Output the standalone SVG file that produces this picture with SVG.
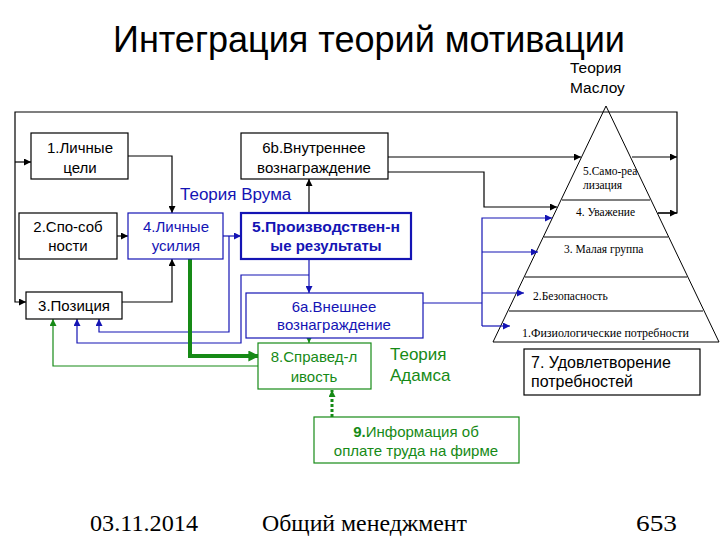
<svg xmlns="http://www.w3.org/2000/svg" width="720" height="540" viewBox="0 0 720 540">
<defs>
<style>
.t{font-family:"Liberation Sans",Arial,sans-serif;font-size:15px;text-anchor:middle}
.s{font-family:"Liberation Serif","Times New Roman",serif}
.bk{fill:#fff;stroke:#000;stroke-width:1.2}
.bl{fill:#fff;stroke:#1414b4;stroke-width:1.2}
.gr{fill:#fff;stroke:#168a16;stroke-width:1.2}
.cb{fill:none;stroke:#000;stroke-width:1.2}
.cu{fill:none;stroke:#1414b4;stroke-width:1.2}
.cg{fill:none;stroke:#168a16;stroke-width:1.2}
.tb{fill:#000}
.tu{fill:#1414b4}
.tg{fill:#168a16}
.py{font-family:"Liberation Serif","Times New Roman",serif;font-size:11.5px;fill:#000}
</style>
<marker id="ab" viewBox="0 0 8 8" refX="8" refY="4" markerWidth="8" markerHeight="7" orient="auto" markerUnits="userSpaceOnUse"><path d="M0,0 L8,4 L0,8 z" fill="#000"/></marker>
<marker id="au" viewBox="0 0 8 8" refX="8" refY="4" markerWidth="8" markerHeight="7" orient="auto" markerUnits="userSpaceOnUse"><path d="M0,0 L8,4 L0,8 z" fill="#1414b4"/></marker>
<marker id="ag" viewBox="0 0 8 8" refX="8" refY="4" markerWidth="8" markerHeight="7" orient="auto" markerUnits="userSpaceOnUse"><path d="M0,0 L8,4 L0,8 z" fill="#168a16"/></marker>
<marker id="agb" viewBox="0 0 8 8" refX="7" refY="4" markerWidth="11" markerHeight="11" orient="auto" markerUnits="userSpaceOnUse"><path d="M0,0 L8,4 L0,8 z" fill="#168a16"/></marker>
</defs>
<rect width="720" height="540" fill="#fff"/>

<text x="369" y="52" font-family="Liberation Sans, Arial, sans-serif" font-size="37" text-anchor="middle" textLength="512" lengthAdjust="spacingAndGlyphs" fill="#000">Интеграция теорий мотивации</text>

<g id="maslow-title"><text x="570" y="73" font-family="Liberation Sans, Arial, sans-serif" font-size="15.5" fill="#000">Теория</text><text x="570" y="93" font-family="Liberation Sans, Arial, sans-serif" font-size="15.5" fill="#000">Маслоу</text></g>

<g id="pyramid">
<path d="M606,106 L493,342 L719,342 Z" fill="#fff" stroke="#000" stroke-width="1"/>
<line x1="562" y1="200" x2="650" y2="200" stroke="#000" stroke-width="1"/>
<line x1="544" y1="237" x2="668" y2="237" stroke="#000" stroke-width="1"/>
<line x1="525" y1="277" x2="687" y2="277" stroke="#000" stroke-width="1"/>
<line x1="509" y1="311" x2="703" y2="311" stroke="#000" stroke-width="1"/>
<text class="py" x="583" y="175">5.Само-реа</text>
<text class="py" x="583" y="189">лизация</text>
<text class="py" x="576" y="216">4. Уважение</text>
<text class="py" x="564" y="253">3. Малая группа</text>
<text class="py" x="533" y="300">2.Безопасность</text>
<text class="py" x="522" y="337" textLength="167" lengthAdjust="spacingAndGlyphs">1.Физиологические потребности</text>
</g>

<g id="connectors">
<path class="cb" d="M658,213 H677 V112 H15 V302 H26" marker-end="url(#ab)"/>
<path class="cb" d="M15,162 H31" marker-end="url(#ab)"/>
<path class="cb" d="M632,157 H677" marker-end="url(#ab)"/>
<path class="cb" d="M658,213 H677" marker-end="url(#ab)"/>
<path class="cb" d="M388,157 H581" marker-end="url(#ab)"/>
<path class="cb" d="M388,172 H484 V207 H557" marker-end="url(#ab)"/>
<path class="cb" d="M128,156 H172 V213" marker-end="url(#ab)"/>
<path class="cb" d="M117,236 H128" marker-end="url(#ab)"/>
<path class="cb" d="M122,302 H172 V259" marker-end="url(#ab)"/>
<path class="cb" d="M309,213 V179" marker-end="url(#ab)"/>

<path class="cu" d="M223,236 H241" marker-end="url(#au)"/>
<path class="cu" d="M229,236 V332 H99 V319" marker-end="url(#au)"/>
<path class="cu" d="M309,259 V293" marker-end="url(#au)"/>
<path class="cu" d="M309,275 H241 V343 H77 V319" marker-end="url(#au)"/>
<path class="cu" d="M423,303 H482"/>
<path class="cu" d="M482,326 V218 H552" marker-end="url(#au)"/>
<path class="cu" d="M482,252 H538" marker-end="url(#au)"/>
<path class="cu" d="M482,293 H524" marker-end="url(#au)"/>
<path class="cu" d="M482,326 H510" marker-end="url(#au)"/>

<path d="M190,259 V356 H258" fill="none" stroke="#168a16" stroke-width="4" marker-end="url(#agb)"/>
<path class="cg" d="M309,318 V343" marker-end="url(#ag)"/>
<path class="cg" d="M258,366 H53 V319" marker-end="url(#ag)"/>
<path d="M332,417 V390" fill="none" stroke="#168a16" stroke-width="3" stroke-dasharray="3 2" marker-end="url(#ag)"/>
</g>

<g id="n1"><rect class="bk" x="31" y="133" width="97" height="46"/><text class="t tb" x="80" y="153">1.Личные</text><text class="t tb" x="80" y="173">цели</text></g>
<g id="n2"><rect class="bk" x="19" y="213" width="98" height="46"/><text class="t tb" x="68" y="232">2.Спо-соб</text><text class="t tb" x="68" y="251">ности</text></g>
<g id="n4"><rect class="bl" x="128" y="213" width="95" height="46"/><text class="t tu" x="176" y="232">4.Личные</text><text class="t tu" x="176" y="251">усилия</text></g>
<g id="n3"><rect class="bk" x="26" y="292" width="96" height="27"/><text class="t tb" x="74" y="311">3.Позиция</text></g>
<g id="n6b"><rect class="bk" x="241" y="133" width="147" height="46"/><text class="t tb" x="314" y="153">6b.Внутреннее</text><text class="t tb" x="314" y="173">вознаграждение</text></g>
<g id="n5"><rect x="241" y="213" width="170" height="46" fill="#fff" stroke="#1414b4" stroke-width="2.2"/><text class="t tu" x="326" y="232" font-weight="bold" textLength="148" lengthAdjust="spacingAndGlyphs">5.Производствен-н</text><text class="t tu" x="326" y="251" font-weight="bold">ые результаты</text></g>
<g id="n6a"><rect class="bl" x="246" y="293" width="177" height="45"/><text class="t tu" x="334" y="312">6a.Внешнее</text><text class="t tu" x="334" y="330">вознаграждение</text></g>
<g id="n8"><rect class="gr" x="258" y="343" width="113" height="46"/><text class="t tg" x="314" y="362">8.Справед-л</text><text class="t tg" x="314" y="382">ивость</text></g>
<g id="n9"><rect class="gr" x="314" y="417" width="205" height="46"/><text class="t tg" x="416" y="437"><tspan font-weight="bold">9.</tspan>Информация об</text><text class="t tg" x="416" y="456">оплате труда на фирме</text></g>
<g id="n7"><rect class="bk" x="524" y="349" width="176" height="46"/><text x="531" y="368" font-family="Liberation Sans, Arial, sans-serif" font-size="16" fill="#000">7. Удовлетворение</text><text x="531" y="387" font-family="Liberation Sans, Arial, sans-serif" font-size="16" fill="#000">потребностей</text></g>

<g id="labels">
<text x="180" y="200" font-family="Liberation Sans, Arial, sans-serif" font-size="17" fill="#1414b4">Теория Врума</text>
<text x="390" y="360" font-family="Liberation Sans, Arial, sans-serif" font-size="17" fill="#168a16">Теория</text>
<text x="390" y="381" font-family="Liberation Sans, Arial, sans-serif" font-size="17" fill="#168a16">Адамса</text>
</g>

<g id="footer" class="s" font-size="24" fill="#000">
<text x="90" y="531" textLength="108" lengthAdjust="spacingAndGlyphs">03.11.2014</text>
<text x="262" y="531" textLength="205" lengthAdjust="spacingAndGlyphs">Общий менеджмент</text>
<text x="636" y="531" textLength="41" lengthAdjust="spacingAndGlyphs">653</text>
</g>
</svg>
